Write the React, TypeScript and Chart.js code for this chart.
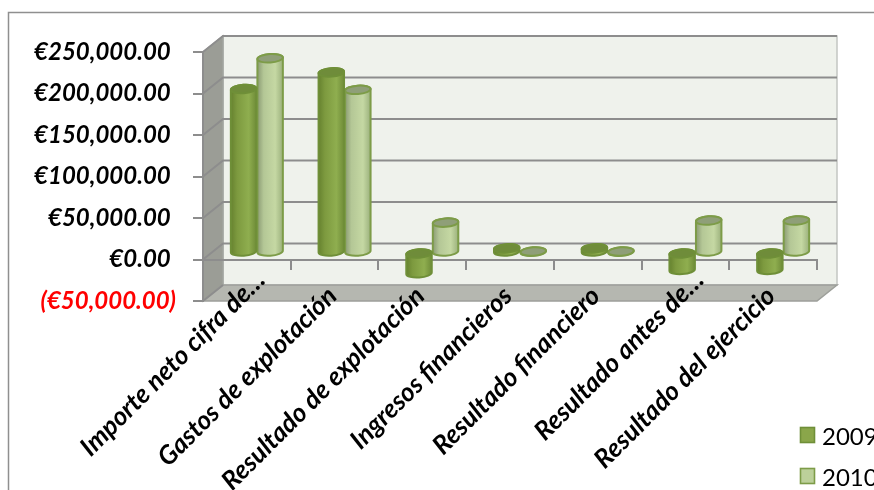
import React, { useEffect, useRef } from "react";
import { Chart, BarController, BarElement, CategoryScale, LinearScale } from "chart.js";

const categories = [
  "Importe neto cifra de…",
  "Gastos de explotación",
  "Resultado de explotación",
  "Ingresos financieros",
  "Resultado financiero",
  "Resultado antes de…",
  "Resultado del ejercicio",
];
const values2009 = [197000, 217000, -25000, 5000, 5000, -21000, -21000];
const values2010 = [234000, 196000, 36000, 1000, 1000, 38500, 38500];
const yTickLabels = [
  "(€50,000.00)",
  "€0.00",
  "€50,000.00",
  "€100,000.00",
  "€150,000.00",
  "€200,000.00",
  "€250,000.00",
];

const DEPTH_X = 20;
const DEPTH_Y = 16;
const BAR_DX = 10;
const BAR_DY = 7;
const GRID = "#8d8d8d";
const FONT = "Lato";

const palettes: Record<string, { stops: [number, string][]; cap: string; line: string }> = {
  "#8aa64a": {
    stops: [[0, "#66822f"], [0.25, "#7d9a3f"], [0.7, "#8fae4f"], [1, "#6f8c38"]],
    cap: "#6f8c3a",
    line: "#6f8f38",
  },
  "#bcd09a": {
    stops: [[0, "#8b9b74"], [0.25, "#b4c796"], [0.7, "#c5d8a3"], [1, "#9bb07c"]],
    cap: "#8f9f78",
    line: "#7d9c48",
  },
};

// Bar element rendered as a slightly tilted cylinder standing inside the depth of the plot box.
class CylinderElement extends BarElement {
  static id = "cylinderBar";
  static defaults = BarElement.defaults;
  static defaultRoutes = BarElement.defaultRoutes;

  draw(ctx: CanvasRenderingContext2D) {
    const { x, y, base, width } = (this as any).getProps(["x", "y", "base", "width"]);
    const p = palettes[(this as any).options.backgroundColor];
    const cx = x + BAR_DX;
    const rx = width / 2 - 0.5;
    const ry = 4.2;
    const rot = -0.07;
    const top = Math.min(y, base) - BAR_DY;
    const bottom = Math.max(y, base) - BAR_DY;

    const grad = ctx.createLinearGradient(cx - rx, 0, cx + rx, 0);
    p.stops.forEach(([o, c]) => grad.addColorStop(o, c));

    ctx.save();
    ctx.lineWidth = 2;
    ctx.strokeStyle = p.line;
    ctx.beginPath();
    ctx.ellipse(cx, bottom, rx, ry, rot, 0, Math.PI);
    ctx.ellipse(cx, top, rx, ry, rot, Math.PI, Math.PI * 2);
    ctx.closePath();
    ctx.fillStyle = grad;
    ctx.fill();
    ctx.stroke();

    ctx.beginPath();
    ctx.ellipse(cx, top, rx, ry, rot, 0, Math.PI * 2);
    ctx.fillStyle = p.cap;
    ctx.fill();
    ctx.stroke();
    ctx.restore();
  }
}

class CylinderController extends BarController {
  static id = "cylinder";
  static defaults = { ...BarController.defaults, dataElementType: "cylinderBar" };
  static overrides = BarController.overrides;
}

// Frame, side wall, floor and back wall of the pseudo-3D plot box, placed from the scales.
const plotBox = {
  id: "plotBox",
  beforeDraw(chart: Chart) {
    const { ctx, width, height } = chart;
    const x = chart.scales.x;
    const y = chart.scales.y;
    const l = x.left;
    const r = x.right;
    const t = y.top;
    const b = y.bottom;

    ctx.save();
    ctx.strokeStyle = "#8f8f8f";
    ctx.lineWidth = 1.5;
    ctx.beginPath();
    ctx.moveTo(8.5, height);
    ctx.lineTo(8.5, 12.5);
    ctx.lineTo(width, 12.5);
    ctx.stroke();

    const poly = (pts: number[][], fill: string, stroke: string) => {
      ctx.beginPath();
      pts.forEach(([px, py], i) => (i ? ctx.lineTo(px, py) : ctx.moveTo(px, py)));
      ctx.closePath();
      ctx.fillStyle = fill;
      ctx.fill();
      ctx.strokeStyle = stroke;
      ctx.lineWidth = 1.5;
      ctx.stroke();
    };

    poly([[l + DEPTH_X, t - DEPTH_Y], [r + DEPTH_X, t - DEPTH_Y], [r + DEPTH_X, b - DEPTH_Y], [l + DEPTH_X, b - DEPTH_Y]], "#eff2ec", "#c4c6c2");
    poly([[l, t], [l + DEPTH_X, t - DEPTH_Y], [l + DEPTH_X, b - DEPTH_Y], [l, b]], "#9b9d96", "#a3a5a0");
    poly([[l, b], [l + DEPTH_X, b - DEPTH_Y], [r + DEPTH_X, b - DEPTH_Y], [r, b]], "#b5b7b0", "#9d9f9a");

    ctx.strokeStyle = GRID;
    ctx.lineWidth = 2;
    y.ticks.forEach((tick) => {
      const py = y.getPixelForValue(tick.value);
      ctx.beginPath();
      ctx.moveTo(l, py);
      ctx.lineTo(l + DEPTH_X, py - DEPTH_Y);
      if (py < b) ctx.lineTo(r + DEPTH_X, py - DEPTH_Y);
      ctx.stroke();
    });
    ctx.restore();
  },
  afterDraw(chart: Chart) {
    const { ctx } = chart;
    const rows = [435, 476];
    ctx.save();
    chart.data.datasets.forEach((ds: any, i: number) => {
      const ly = rows[i];
      ctx.fillStyle = ds.backgroundColor;
      ctx.strokeStyle = palettes[ds.backgroundColor].line;
      ctx.lineWidth = 1.6;
      ctx.fillRect(800.5, ly - 7.5, 14, 15);
      ctx.strokeRect(800.5, ly - 7.5, 14, 15);
      ctx.fillStyle = "#000";
      ctx.font = `24px ${FONT}`;
      ctx.textAlign = "left";
      ctx.textBaseline = "middle";
      ctx.fillText(ds.label, 822, ly + 2);
    });
    ctx.restore();
  },
};

Chart.register(CylinderController, CylinderElement, CategoryScale, LinearScale);

export default function App() {
  const ref = useRef<HTMLCanvasElement>(null);

  useEffect(() => {
    const chart = new Chart(ref.current!, {
      type: "cylinder" as any,
      data: {
        labels: categories,
        datasets: [
          { label: "2009", data: values2009, backgroundColor: "#8aa64a" },
          { label: "2010", data: values2010, backgroundColor: "#bcd09a" },
        ],
      },
      options: {
        responsive: false,
        animation: false,
        events: [],
        datasets: { cylinder: { categoryPercentage: 0.605, barPercentage: 1 } } as any,
        layout: { padding: { left: 0, top: 52, right: 57, bottom: 189 } },
        plugins: { legend: { display: false }, tooltip: { enabled: false } } as any,
        scales: {
          x: {
            type: "category",
            position: { y: 0 } as any,
            grid: { drawOnChartArea: false, tickLength: 9, color: GRID, lineWidth: 2, offset: true },
            border: { color: GRID, width: 2 },
            ticks: {
              minRotation: 45,
              maxRotation: 45,
              autoSkip: false,
              padding: -4,
              labelOffset: 14,
              // Truncated names sit a little further along their slant than the full ones.
              callback: (_v: any, i: number) => {
                const label = categories[i];
                return label.endsWith("…") ? label : label + "    ";
              },
              color: "#000",
              font: { family: FONT, size: 26, weight: "bold", style: "italic" },
            },
          },
          y: {
            min: -50000,
            max: 250000,
            afterFit: (s: any) => {
              s.width = 203;
            },
            grid: { drawOnChartArea: false, tickLength: 10, color: GRID, lineWidth: 2 },
            border: { color: GRID, width: 2 },
            ticks: {
              stepSize: 50000,
              padding: 17,
              callback: (_v: any, i: number) => {
                const label = yTickLabels[i];
                return label.startsWith("(") ? label : label + " ";
              },
              color: (c: any) => (c.tick.value < 0 ? "#ff0000" : "#000000"),
              font: { family: FONT, size: 24, weight: "bold", style: "italic" },
            },
          },
        },
      },
      plugins: [plotBox],
    } as any);
    return () => chart.destroy();
  }, []);

  return (
    <canvas
      ref={ref}
      width={874}
      height={490}
      style={{ position: "fixed", left: 0, top: 0, display: "block" }}
    />
  );
}
